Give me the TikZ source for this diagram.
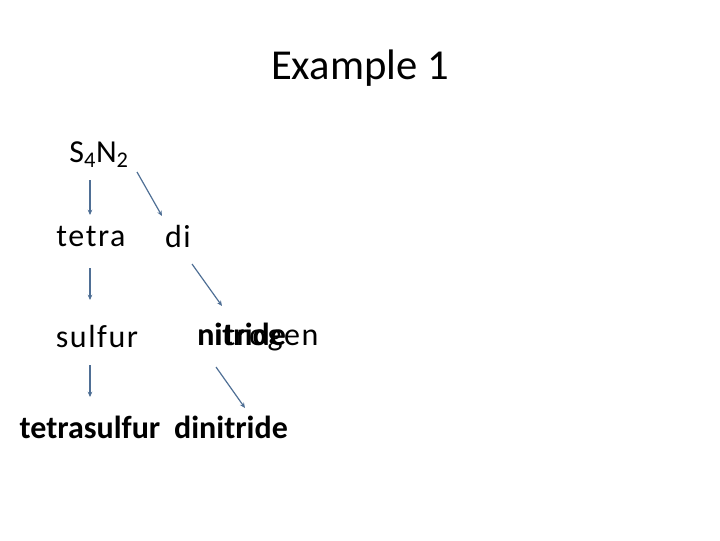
\documentclass[tikz,border=0pt]{standalone}
\usepackage{fontspec}
\setmainfont{Carlito}
\newfontfamily\spaced[LetterSpace=5]{Carlito}
\usetikzlibrary{arrows.meta}
\definecolor{arr}{HTML}{4F6F95}
\begin{document}
\begin{tikzpicture}[x=0.75pt,y=-0.75pt,
  lbl/.style={inner sep=0pt,font=\spaced\fontsize{24}{28}\selectfont},
  bl/.style={inner sep=0pt,font=\bfseries\fontsize{24}{28}\selectfont},
  con/.style={draw=arr,line width=0.9pt,-{Stealth[length=4pt,width=3.5pt]}}]
\useasboundingbox (0,0) rectangle (720,540);
\node[inner sep=0pt,font=\fontsize{32}{38}\selectfont] (t) at (360,68) {Example 1};
\node[lbl] (s) at (99,155) {S\textsubscript{4}N\textsubscript{2}};
\node[lbl] (te) at (91,236) {tetra};
\node[lbl] (di) at (178,236) {di};
\node[lbl] (su) at (97,336) {sulfur};
\node[lbl,anchor=base west] (ni) at (197,345) {nitrogen};
\node[bl,anchor=base west] (nd) at (197,345) {nitride};
\node[bl] (ts) at (90,427) {tetrasulfur};
\node[bl] (dn) at (231,427) {dinitride};
\coordinate (a1) at (90,180); \coordinate (b1) at (90,215);
\coordinate (a2) at (137,172); \coordinate (b2) at (162,216);
\coordinate (a3) at (90,268); \coordinate (b3) at (90,300);
\coordinate (a4) at (192,264); \coordinate (b4) at (222,306);
\coordinate (a5) at (90,365); \coordinate (b5) at (90,397);
\coordinate (a6) at (216,367); \coordinate (b6) at (245,408);
\draw[con] (a1) -- (b1);
\draw[con] (a2) -- (b2);
\draw[con] (a3) -- (b3);
\draw[con] (a4) -- (b4);
\draw[con] (a5) -- (b5);
\draw[con] (a6) -- (b6);
\end{tikzpicture}
\end{document}
